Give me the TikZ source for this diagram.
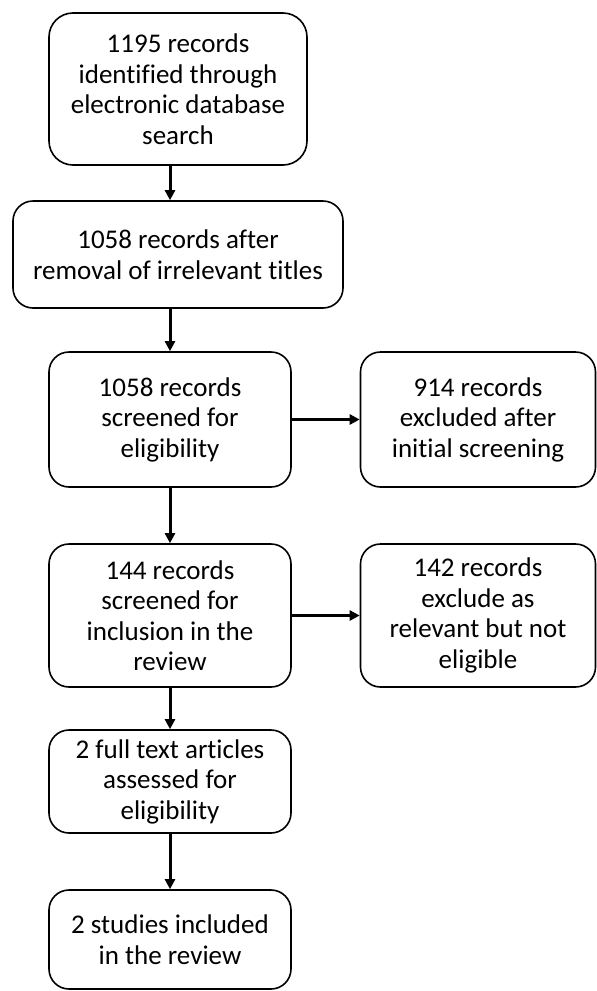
\documentclass[tikz,border=0pt]{standalone}
\usepackage{fontspec}
\setmainfont{Carlito}[Ligatures={NoCommon}]
\usetikzlibrary{arrows.meta}
\begin{document}
\begin{tikzpicture}[x=1pt,y=-1pt,
  box/.style={draw,line width=1.6pt,rounded corners=20pt,align=center,inner sep=0pt,
    font=\fontsize{27}{30.5}\selectfont},
  arr/.style={line width=3pt,-{Triangle[length=10pt,width=10pt]}}]
\useasboundingbox (0,0) rectangle (597,991);
\node[box,rounded corners=24pt,minimum width=258,minimum height=152] (b1) at (178,89) {1195 records\\identified through\\electronic database\\search};
\node[box,minimum width=330,minimum height=107] (b2) at (178,254.5) {1058 records after\\removal of irrelevant titles};
\node[box,minimum width=242,minimum height=135] (b3) at (170,419.5) {1058 records\\screened for\\eligibility};
\node[box,minimum width=235,minimum height=135] (b4) at (478,419.5) {914 records\\excluded after\\initial screening};
\node[box,minimum width=242,minimum height=143] (b5) at (170,615.5) {144 records\\screened for\\inclusion in the\\review};
\node[box,minimum width=235,minimum height=143] (b6) at (478,615.5) {142 records\\exclude as\\relevant but not\\eligible};
\node[box,minimum width=242,minimum height=103] (b7) at (170,781.5) {2 full text articles\\assessed for\\eligibility};
\node[box,minimum width=242,minimum height=99] (b8) at (170,939.5) {2 studies included\\in the review};
\draw[arr] (b1.south -| b3) -- (b2.north -| b3);
\draw[arr] (b2.south -| b3) -- (b3.north);
\draw[arr] (b3.east) -- (b4.west);
\draw[arr] (b3.south) -- (b5.north);
\draw[arr] (b5.east) -- (b6.west);
\draw[arr] (b5.south) -- (b7.north);
\draw[arr] (b7.south) -- (b8.north);
\end{tikzpicture}
\end{document}
